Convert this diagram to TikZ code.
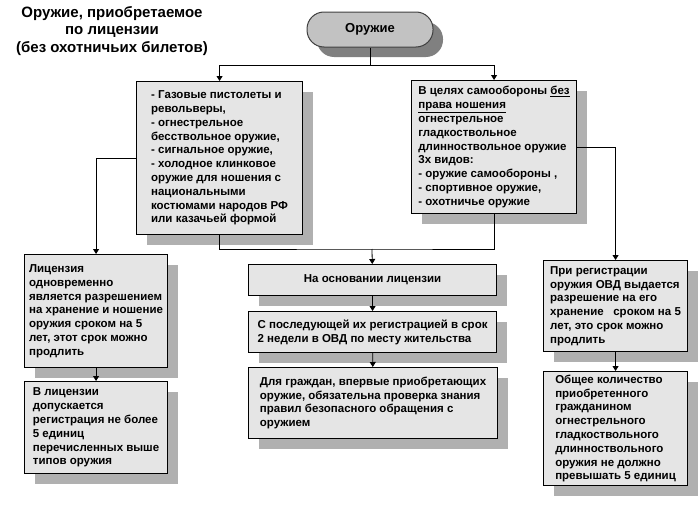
\documentclass[tikz,border=0pt]{standalone}
\usepackage{fontspec}
\setmainfont{Liberation Sans}
\usetikzlibrary{arrows.meta,shadows}
\definecolor{boxgray}{gray}{0.90}
\definecolor{shadegray}{gray}{0.69}
\definecolor{rootgray}{gray}{0.76}
\definecolor{rootshade}{gray}{0.50}

\begin{document}
\begin{tikzpicture}[>={Triangle[length=5pt,width=6pt]},x=1pt,y=-1pt,
  box/.style={draw,line width=1.1pt,fill=boxgray,anchor=north west,align=left,
    font=\fontsize{11.5}{13.8}\selectfont\bfseries,inner sep=0pt,
    drop shadow={shadow xshift=10pt,shadow yshift=-10pt,fill=shadegray,opacity=1}},
  rootbox/.style={draw=black!75,line width=1pt,fill=rootgray,rounded corners=17pt,
    minimum width=126pt,minimum height=35pt,font=\fontsize{13}{15}\selectfont\bfseries,
    drop shadow={shadow xshift=10pt,shadow yshift=-10pt,fill=rootshade,opacity=1}},
  link/.style={line width=0.8pt}]
  \useasboundingbox (0,0) rectangle (699,506);
  % Heading in the upper left corner
  \node[font=\fontsize{15}{17.5}\selectfont\bfseries,align=center] (title) at (112,31)
    {Оружие, приобретаемое\\по лицензии\\(без охотничьих билетов)};
  \node[rootbox] (root) at (370,29.5) {Оружие};
  % Two kinds of weapon
  \node[box,minimum width=166pt,minimum height=153pt] (gas) at (136,81)
    {- Газовые пистолеты и\\револьверы,\\- огнестрельное\\бесствольное оружие,\\- сигнальное оружие,\\- холодное клинковое\\оружие для ношения с\\национальными\\костюмами народов РФ\\или казачьей формой};
  \node[box,minimum width=165pt,minimum height=133pt] (self) at (411,80)
    {В целях самообороны \underline{без}\\\underline{права ношения}\\огнестрельное\\гладкоствольное\\длинноствольное оружие\\3х видов:\\- оружие самообороны ,\\- спортивное оружие,\\- охотничье оружие};
  % Left column
  \node[box,minimum width=143pt,minimum height=113pt] (lic) at (24,254)
    {Лицензия\\одновременно\\является разрешением\\на хранение и ношение\\оружия сроком на 5\\лет, этот срок можно\\продлить};
  \node[box,minimum width=143pt,minimum height=92pt] (quota) at (24,381)
    {В лицензии\\допускается\\регистрация не более\\5 единиц\\перечисленных выше\\типов оружия};
  % Middle column
  \node[box,minimum width=248pt,minimum height=31pt,align=center] (base) at (248,264)
    {На основании лицензии};
  \node[box,minimum width=248pt,minimum height=41pt] (term) at (248,311)
    {С последующей их регистрацией в срок\\2 недели в ОВД по месту жительства};
  \node[box,minimum width=249pt,minimum height=71pt] (exam) at (248,367)
    {Для граждан, впервые приобретающих\\оружие, обязательна проверка знания\\правил безопасного обращения с\\оружием};
  % Right column
  \node[box,minimum width=144pt,minimum height=91pt] (ovd) at (543,260)
    {При регистрации\\оружия ОВД выдается\\разрешение на его\\хранение \ \ сроком на 5\\лет, это срок можно\\продлить};
  \node[box,minimum width=144pt,minimum height=114pt] (total) at (543,371)
    {Общее количество\\приобретенного\\гражданином\\огнестрельного\\гладкоствольного\\длинноствольного\\оружия не должно\\превышать 5 единиц};
  % Connectors
  \coordinate (fork) at (370,65);
  \coordinate (joint) at (372,249);
  \draw[link] (root) -- (fork);
  \draw[link,->] (fork) -| (gas);
  \draw[link,->] (fork) -| (self);
  \draw[link] (gas) |- (joint) -| (self);
  \draw[link,->] (joint) -- (base);
  \draw[link,->] (base) -- (term);
  \draw[link,->] (term) -- (exam);
  \draw[link,->] (gas) -| (lic);
  \draw[link,->] (lic) -- (quota);
  \draw[link,->] (self) -| (ovd);
  \draw[link,->] (ovd) -- (total);
\end{tikzpicture}
\end{document}
